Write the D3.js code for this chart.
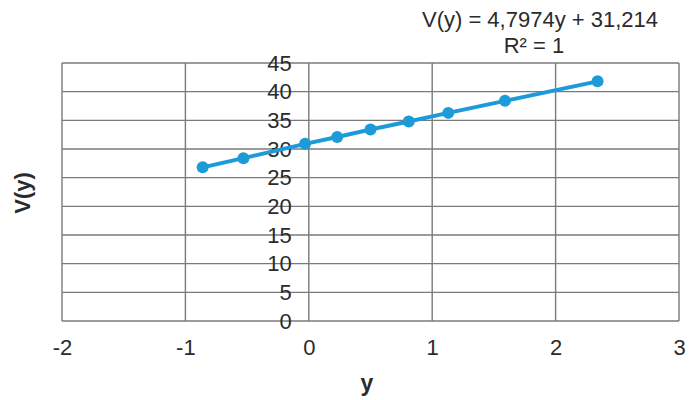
<!DOCTYPE html>
<html>
<head>
<meta charset="utf-8">
<script src="https://cdn.jsdelivr.net/npm/d3@7"></script>
<style>
  body { margin: 0; background: #fff; }
  text { font-family: Arial, "Liberation Sans", sans-serif; fill: #2b2b2b; }
</style>
</head>
<body>
<div id="vis"></div>
<script>
'use strict'

////////////////////////////////////////
/////////////// Data ///////////////////
////////////////////////////////////////

const yValues = [-0.86, -0.53, -0.03, 0.23, 0.5, 0.81, 1.13, 1.59, 2.34];
const vValues = [26.8, 28.4, 30.9, 32.1, 33.4, 34.8, 36.3, 38.4, 41.8];

const xTicks = [-2, -1, 0, 1, 2, 3];
const yTicks = [0, 5, 10, 15, 20, 25, 30, 35, 40, 45];

const equation = "V(y) = 4,7974y + 31,214";
const rSquared = "R² = 1";

////////////////////////////////////////
/////////////// Defaults ///////////////
////////////////////////////////////////

const options = {
  width: 694,
  height: 400,
  margin: { top: 63, right: 15, bottom: 79, left: 62 },
  lineColor: "#1c9bd8",
  gridColor: "#7a7a7a"
}

////////////////////////////////////////
////////////// SVG Setup ///////////////
////////////////////////////////////////

const svg = d3.select('#vis').append('svg')
  .attr('width', options.width)
  .attr('height', options.height);

const x = d3.scaleLinear()
  .domain([-2, 3])
  .range([options.margin.left, options.width - options.margin.right]);

const y = d3.scaleLinear()
  .domain([0, 45])
  .range([options.height - options.margin.bottom, options.margin.top]);

////////////////////////////////////////
////////////// Grid ////////////////////
////////////////////////////////////////

const grid = svg.append('g')
  .attr('stroke', options.gridColor)
  .attr('stroke-width', 1.4);

grid.selectAll('.hline')
  .data(yTicks)
  .join('line')
  .attr('class', 'hline')
  .attr('x1', x(-2))
  .attr('x2', x(3))
  .attr('y1', d => y(d))
  .attr('y2', d => y(d));

grid.selectAll('.vline')
  .data(xTicks)
  .join('line')
  .attr('class', 'vline')
  .attr('x1', d => x(d))
  .attr('x2', d => x(d))
  .attr('y1', y(0))
  .attr('y2', y(45));

////////////////////////////////////////
////////////// Axes ////////////////////
////////////////////////////////////////

// plain hyphen for negatives, like the original
const plain = d => String(d);

// y labels sit just left of the zero line
svg.append('g')
  .attr('transform', `translate(${x(0)},0)`)
  .call(d3.axisLeft(y).tickValues(yTicks).tickSize(0).tickPadding(17).tickFormat(plain))
  .call(g => g.select('.domain').remove())
  .selectAll('text')
  .attr('font-size', 22)
  .attr('fill', '#2b2b2b')
  .attr('font-family', 'Arial, "Liberation Sans", sans-serif');

svg.append('g')
  .attr('transform', `translate(0,${y(0)})`)
  .call(d3.axisBottom(x).tickValues(xTicks).tickSize(0).tickPadding(18.5).tickFormat(plain))
  .call(g => g.select('.domain').remove())
  .selectAll('text')
  .attr('font-size', 22)
  .attr('fill', '#2b2b2b')
  .attr('font-family', 'Arial, "Liberation Sans", sans-serif');

svg.append('text')
  .attr('x', 367)
  .attr('y', 391)
  .attr('text-anchor', 'middle')
  .attr('font-size', 23)
  .attr('font-weight', 'bold')
  .text('y');

svg.append('text')
  .attr('transform', 'translate(30,193) rotate(-90)')
  .attr('text-anchor', 'middle')
  .attr('font-size', 22)
  .attr('font-weight', 'bold')
  .text('V(y)');

////////////////////////////////////////
////////////// Series //////////////////
////////////////////////////////////////

const points = yValues.map((d, i) => ({ y: d, v: vValues[i] }));

const line = d3.line()
  .x(d => x(d.y))
  .y(d => y(d.v));

svg.append('path')
  .datum(points)
  .attr('fill', 'none')
  .attr('stroke', options.lineColor)
  .attr('stroke-width', 4)
  .attr('stroke-linejoin', 'round')
  .attr('d', line);

svg.selectAll('.dot')
  .data(points)
  .join('circle')
  .attr('class', 'dot')
  .attr('cx', d => x(d.y))
  .attr('cy', d => y(d.v))
  .attr('r', 6)
  .attr('fill', options.lineColor);

////////////////////////////////////////
////////////// Trendline label /////////
////////////////////////////////////////

svg.append('text')
  .attr('x', 540)
  .attr('y', 27)
  .attr('text-anchor', 'middle')
  .attr('font-size', 22)
  .text(equation);

svg.append('text')
  .attr('x', 534)
  .attr('y', 53)
  .attr('text-anchor', 'middle')
  .attr('font-size', 22)
  .text(rSquared);

</script>
</body>
</html>
